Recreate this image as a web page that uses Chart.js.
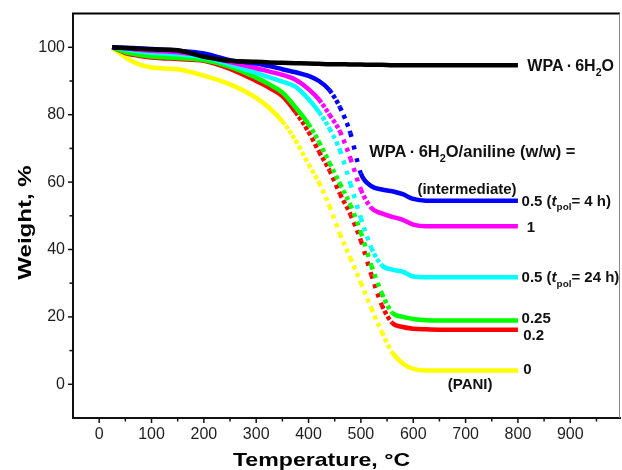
<!DOCTYPE html>
<html>
<head>
<meta charset="utf-8">
<script src="https://cdn.jsdelivr.net/npm/chart.js@4.4.1/dist/chart.umd.min.js"></script>
<style>
  html, body { margin: 0; padding: 0; background: #ffffff; }
  #wrap { width: 622px; height: 470px; }
</style>
</head>
<body>
<div id="wrap"><canvas id="c" width="622" height="470"></canvas></div>
<script>
// ---- data ----
const temps = [25, 50, 75, 100, 150, 200, 250, 300, 325, 350, 375, 400, 420, 440, 460, 480, 500, 520, 540, 560, 580, 600, 625, 650, 700, 750, 800];

const wpaHydrate = [100, 99.8, 99.6, 99.4, 99.1, 97.2, 96.0, 95.7, 95.5, 95.4, 95.3, 95.2, 95.1, 95.0, 95.0, 94.9, 94.9, 94.8, 94.8, 94.7, 94.7, 94.7, 94.7, 94.7, 94.7, 94.7, 94.7];
const ratio05_4h = [100, 99.9, 99.7, 99.5, 99.0, 98.2, 96.2, 95.2, 94.4, 93.5, 92.6, 91.5, 90.0, 87.3, 82.2, 74.5, 62.5, 58.8, 57.8, 57.3, 56.4, 55.0, 54.5, 54.5, 54.5, 54.5, 54.5];
const ratio1 = [100, 99.7, 99.3, 99.0, 98.5, 97.6, 95.6, 93.8, 92.8, 91.8, 90.4, 87.6, 84.5, 80.0, 75.0, 67.0, 57.8, 52.3, 50.7, 49.7, 48.8, 47.4, 46.9, 46.9, 46.9, 46.9, 46.9];
const ratio05_24h = [100, 99.4, 98.8, 98.4, 97.9, 97.0, 94.9, 92.4, 91.1, 89.8, 88.3, 84.6, 80.8, 75.9, 69.4, 59.5, 49.3, 40.5, 35.3, 34.0, 33.4, 32.0, 31.8, 31.8, 31.8, 31.8, 31.8];
const ratio025 = [100, 98.6, 97.8, 97.3, 96.8, 96.2, 94.2, 91.0, 89.0, 86.6, 82.2, 77.2, 71.9, 65.7, 59.5, 53.2, 45.0, 35.2, 27.0, 21.2, 20.0, 19.4, 19.0, 18.9, 18.9, 18.9, 18.9];
const ratio02 = [100, 98.3, 97.5, 97.0, 96.5, 96.0, 93.6, 90.0, 88.0, 85.5, 80.8, 74.9, 69.0, 63.5, 56.5, 50.4, 42.6, 32.5, 23.5, 18.2, 17.0, 16.5, 16.3, 16.2, 16.2, 16.2, 16.2];
const pani = [100, 97.0, 95.0, 94.0, 93.5, 91.6, 89.0, 85.0, 82.0, 78.0, 72.4, 65.3, 59.8, 52.8, 44.6, 37.4, 30.1, 22.5, 15.5, 9.4, 6.2, 4.6, 4.1, 4.1, 4.1, 4.1, 4.1];

const xTickValues = [0, 100, 200, 300, 400, 500, 600, 700, 800, 900];
const yTickValues = [0, 20, 40, 60, 80, 100];

const seriesNames = ['WPA·6H2O', '0.5 (tpol = 4 h)', '1', '0.5 (tpol = 24 h)', '0.25', '0.2', '0 (PANI)'];
const seriesValues = [wpaHydrate, ratio05_4h, ratio1, ratio05_24h, ratio025, ratio02, pani];
const seriesColors = ['#000000', '#0000ff', '#ff00ff', '#00ffff', '#00ff00', '#ff0000', '#ffff00'];

// ---- text annotations (data coordinates) ----
const SUB = true, IT = true;
const notes = [
  { x: 818, y: 94.7, size: 16, parts: [{t: 'WPA\u2009\u00B7\u20096H'}, {t: '2', sub: SUB}, {t: 'O'}] },
  { x: 516, y: 69.2, size: 16.5, parts: [{t: 'WPA\u2009\u00B7\u20096H'}, {t: '2', sub: SUB}, {t: 'O/aniline (w/w) ='}] },
  { x: 608, y: 58.1, size: 15, parts: [{t: '(intermediate)'}] },
  { x: 807, y: 54.6, size: 15, parts: [{t: '0.5 ('}, {t: 't', it: IT}, {t: 'pol', sub: SUB}, {t: '= 4 h)'}] },
  { x: 817, y: 46.7, size: 15, parts: [{t: '1'}] },
  { x: 807, y: 31.9, size: 15, parts: [{t: '0.5 ('}, {t: 't', it: IT}, {t: 'pol', sub: SUB}, {t: '= 24 h)'}] },
  { x: 807, y: 19.8, size: 15, parts: [{t: '0.25'}] },
  { x: 810, y: 14.8, size: 15, parts: [{t: '0.2'}] },
  { x: 810, y: 4.7, size: 15, parts: [{t: '0'}] },
  { x: 666, y: 0.1, size: 15, parts: [{t: '(PANI)'}] }
];

const FONT = '"Liberation Sans", Arial, Helvetica, sans-serif';

function drawRich(ctx, x, cy, parts, size) {
  let cx = x;
  const base = cy + size * 0.358;
  for (const p of parts) {
    const s = p.sub ? size * 0.66 : size;
    ctx.font = (p.it ? 'italic ' : '') + 'bold ' + s + 'px ' + FONT;
    const dy = p.sub ? size * 0.32 : 0;
    ctx.fillText(p.t, cx, base + dy);
    cx += ctx.measureText(p.t).width;
  }
}

// steep parts of the measured curves show up as separate square markers
function steepDash(c) {
  const dx = Math.abs(c.p1.x - c.p0.x);
  const dy = Math.abs(c.p1.y - c.p0.y);
  const s = dy / Math.max(dx, 0.01);
  if (s < 1.3) return undefined;
  const L = 3.2 * Math.sqrt(1 + s * s);
  return [4, Math.max(L - 4, 0.5)];
}

const decorPlugin = {
  id: 'decor',
  afterDraw(chart) {
    const ctx = chart.ctx;
    const a = chart.chartArea;
    const xs = chart.scales.x, ys = chart.scales.y;
    ctx.save();
    // frame: top (black) and right (grey)
    ctx.strokeStyle = '#000';
    ctx.lineWidth = 2;
    ctx.beginPath();
    ctx.moveTo(a.left - 1, a.top);
    ctx.lineTo(a.right, a.top);
    ctx.stroke();
    ctx.strokeStyle = '#8a8a8a';
    ctx.lineWidth = 1;
    ctx.beginPath();
    ctx.moveTo(a.right - 0.5, a.top);
    ctx.lineTo(a.right - 0.5, a.bottom);
    ctx.stroke();

    // outward tick marks, major and minor
    ctx.strokeStyle = '#111';
    ctx.lineWidth = 1.5;
    const xb = a.bottom + 1;
    xTickValues.forEach(v => {
      const px = xs.getPixelForValue(v);
      ctx.beginPath(); ctx.moveTo(px, xb); ctx.lineTo(px, xb + 4); ctx.stroke();
      const pm = xs.getPixelForValue(v + 50);
      if (pm < a.right - 2) { ctx.beginPath(); ctx.moveTo(pm, xb); ctx.lineTo(pm, xb + 2.5); ctx.stroke(); }
    });
    const yl = a.left - 1;
    yTickValues.forEach(v => {
      const py = ys.getPixelForValue(v);
      ctx.beginPath(); ctx.moveTo(yl, py); ctx.lineTo(yl - 4, py); ctx.stroke();
      const pm = ys.getPixelForValue(v + 10);
      if (pm > a.top + 2) { ctx.beginPath(); ctx.moveTo(yl, pm); ctx.lineTo(yl - 2.5, pm); ctx.stroke(); }
    });

    // annotations
    ctx.fillStyle = '#111';
    ctx.textAlign = 'left';
    ctx.textBaseline = 'alphabetic';
    notes.forEach(n => {
      drawRich(ctx, xs.getPixelForValue(n.x), ys.getPixelForValue(n.y), n.parts, n.size);
    });

    // axis titles
    ctx.fillStyle = '#000';
    ctx.font = 'bold 18.5px ' + FONT;
    ctx.textAlign = 'center';
    ctx.save();
    ctx.translate(321.5, 466);
    ctx.scale(1.25, 1);
    ctx.fillText('Temperature, \u00B0C', 0, 0);
    ctx.restore();
    ctx.save();
    ctx.translate(30.5, 222.5);
    ctx.rotate(-Math.PI / 2);
    ctx.scale(1.3, 1);
    ctx.fillText('Weight, %', 0, 0);
    ctx.restore();
    ctx.restore();
  }
};

const datasets = seriesValues.map((vals, i) => ({
  label: seriesNames[i],
  data: temps.map((t, k) => ({ x: t, y: vals[k] })),
  borderColor: seriesColors[i],
  backgroundColor: seriesColors[i],
  borderWidth: 4.5,
  pointRadius: 0,
  fill: false,
  cubicInterpolationMode: 'monotone',
  borderJoinStyle: 'round',
  segment: { borderDash: steepDash }
}));

new Chart(document.getElementById('c'), {
  type: 'line',
  data: { datasets },
  options: {
    responsive: false,
    animation: false,
    devicePixelRatio: 1,
    layout: { padding: { top: 13, right: 2, left: 0, bottom: 0 } },
    plugins: { legend: { display: false }, tooltip: { enabled: false }, title: { display: false } },
    scales: {
      x: {
        type: 'linear',
        min: -50,
        max: 995,
        afterBuildTicks: s => { s.ticks = xTickValues.map(v => ({ value: v })); },
        afterFit: s => { s.height = 52; },
        ticks: { font: { family: FONT, size: 16 }, color: '#1e1e1e', padding: 3, maxRotation: 0, autoSkip: false },
        grid: { drawOnChartArea: false, drawTicks: true, tickLength: 4, color: 'rgba(0,0,0,0)' },
        border: { display: true, color: '#111', width: 2 }
      },
      y: {
        type: 'linear',
        min: -10,
        max: 110,
        afterBuildTicks: s => { s.ticks = yTickValues.map(v => ({ value: v })); },
        afterFit: s => { s.width = 73; },
        ticks: { font: { family: FONT, size: 16 }, color: '#1e1e1e', padding: 4, autoSkip: false },
        grid: { drawOnChartArea: false, drawTicks: true, tickLength: 4, color: 'rgba(0,0,0,0)' },
        border: { display: true, color: '#111', width: 2 }
      }
    }
  },
  plugins: [decorPlugin]
});
</script>
</body>
</html>
